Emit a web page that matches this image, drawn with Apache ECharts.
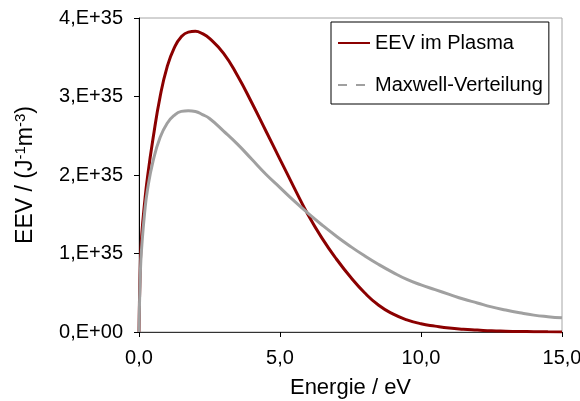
<!DOCTYPE html>
<html>
<head>
<meta charset="utf-8">
<script src="https://cdn.jsdelivr.net/npm/echarts@6/dist/echarts.min.js"></script>
<style>
  html, body { margin: 0; padding: 0; background: #fff; }
  #chart { width: 580px; height: 401px; }
</style>
</head>
<body>
<div id="chart"></div>
<script>
// Electron energy distribution (EEV) in units of 1E+35 J^-1 m^-3
const energy = [0, 0.05, 0.1, 0.2, 0.3, 0.5, 0.75, 1.0, 1.25, 1.5, 1.75, 2.0, 2.25, 2.5, 3.0, 3.5,
  4.0, 4.5, 5.0, 5.5, 6.0, 6.5, 7.0, 7.5, 8.0, 8.5, 9.0, 9.5, 10.0, 10.5, 11.0, 11.5,
  12.0, 12.5, 13.0, 13.5, 14.0, 14.5, 15.0];

const eevPlasma = [0, 0.9, 1.25, 1.65, 1.97, 2.47, 3.0, 3.38, 3.62, 3.76, 3.82, 3.83, 3.80, 3.74, 3.55, 3.26,
  2.92, 2.56, 2.20, 1.84, 1.49, 1.19, 0.93, 0.70, 0.50, 0.34, 0.23, 0.155, 0.105, 0.075, 0.05, 0.035,
  0.025, 0.015, 0.01, 0.006, 0.004, 0.002, 0.001];

const maxwell = [0, 0.78, 1.1, 1.52, 1.81, 2.18, 2.48, 2.66, 2.76, 2.81, 2.82, 2.81, 2.77, 2.72, 2.56, 2.39,
  2.20, 2.01, 1.84, 1.67, 1.51, 1.36, 1.22, 1.09, 0.97, 0.86, 0.76, 0.67, 0.60, 0.54, 0.48, 0.42,
  0.37, 0.32, 0.28, 0.245, 0.215, 0.195, 0.18];

const seriesNames = ['EEV im Plasma', 'Maxwell-Verteilung'];
const yTickLabels = ['0,E+00', '1,E+35', '2,E+35', '3,E+35', '4,E+35'];
const xTickLabels = ['0,0', '5,0', '10,0', '15,0'];

const FONT = '"Liberation Sans", Arial, sans-serif';

const pairs = (xs, ys) => xs.map((x, i) => [x, ys[i]]);

const chart = echarts.init(document.getElementById('chart'), null, { renderer: 'canvas' });
chart.setOption({
  animation: false,
  backgroundColor: '#fff',
  textStyle: { fontFamily: FONT, color: '#000' },
  grid: {
    left: 139, right: 18, top: 18, bottom: 69,
    outerBoundsMode: 'none',
    containLabel: false,
    show: true, borderColor: '#a6a6a6', borderWidth: 1
  },
  legend: {
    left: 331, top: 22,
    orient: 'vertical',
    padding: [11, 6, 9, 6],
    itemWidth: 32, itemHeight: 14, itemGap: 22,
    borderColor: '#000', borderWidth: 1,
    itemStyle: { opacity: 0 },
    textStyle: { fontFamily: FONT, fontSize: 20, color: '#000' },
    data: [
      { name: seriesNames[0] },
      { name: seriesNames[1], lineStyle: { type: [9, 9] } }
    ]
  },
  xAxis: {
    type: 'value', min: 0, max: 15, interval: 5,
    name: 'Energie / eV', nameLocation: 'middle', nameGap: 45,
    nameTextStyle: { fontFamily: FONT, fontSize: 22, color: '#000' },
    axisLine: { lineStyle: { color: '#333', width: 1 } },
    axisTick: { show: true, inside: false, length: 5, lineStyle: { color: '#000' } },
    axisLabel: {
      fontFamily: FONT, fontSize: 20, color: '#000', margin: 16,
      formatter: v => xTickLabels[Math.round(v / 5)]
    },
    splitLine: { show: false }
  },
  yAxis: {
    type: 'value', min: 0, max: 4, interval: 1,
    name: '{n|EEV / (J}{s|-1}{n|m}{s|-3}{n|)}',
    nameLocation: 'middle', nameGap: 100, nameRotate: 90,
    nameTextStyle: {
      rich: {
        n: { fontFamily: FONT, fontSize: 23, color: '#000' },
        s: { fontFamily: FONT, fontSize: 15, color: '#000', padding: [0, 0, 11, 0] }
      }
    },
    axisLine: { show: true, lineStyle: { color: '#000', width: 1 } },
    axisTick: { show: true, inside: false, length: 5, lineStyle: { color: '#000' } },
    axisLabel: {
      fontFamily: FONT, fontSize: 20, color: '#000', margin: 16,
      formatter: v => yTickLabels[Math.round(v)]
    },
    splitLine: { show: false }
  },
  series: [
    {
      name: seriesNames[0], type: 'line', symbol: 'none',
      smooth: 0.5,
      data: pairs(energy, eevPlasma),
      lineStyle: { color: '#8b0000', width: 3 },
      itemStyle: { color: '#8b0000' },
      z: 2
    },
    {
      name: seriesNames[1], type: 'line', symbol: 'none',
      smooth: 0.5,
      data: pairs(energy, maxwell),
      lineStyle: { color: '#a0a0a0', width: 3 },
      itemStyle: { color: '#a0a0a0' },
      z: 3
    }
  ]
});
</script>
</body>
</html>
